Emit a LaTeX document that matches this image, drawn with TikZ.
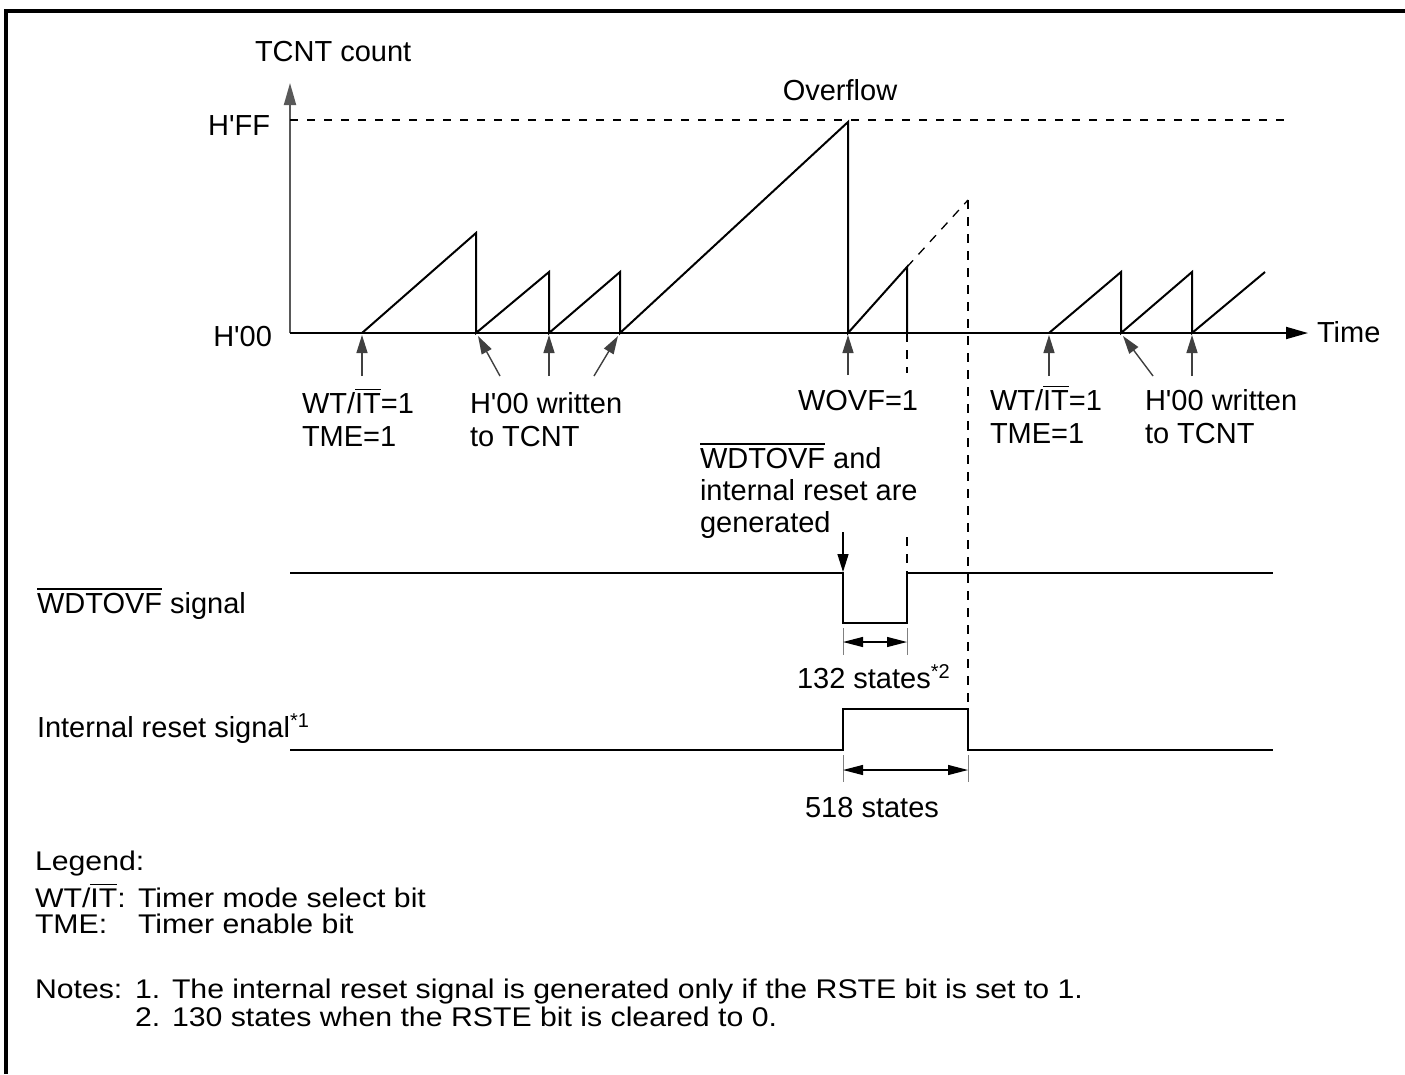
\documentclass[tikz,border=0pt]{standalone}
\usepackage{fontspec}
\setmainfont{Liberation Sans}
\usetikzlibrary{arrows.meta}
\newcommand\ovl[1]{\leavevmode\vbox{\hrule height 1.4pt\kern 3pt\hbox{#1}}}
\newcommand\ap{\textquotesingle}
\newcommand\lgd[1]{\scalebox{1.12}[1]{\fontsize{27}{30}\selectfont #1}}
\tikzset{
  txt/.style={font=\fontsize{29}{33}\selectfont, inner sep=0pt, outer sep=0pt},
  lg/.style={inner sep=0pt, outer sep=0pt, anchor=base west},
  wave/.style={line width=2pt, line join=miter},
  ptr/.style={line width=1.4pt, draw=black!75, -{Triangle[length=18pt,width=11pt]}},
  dsh/.style={line width=1.3pt, dash pattern=on 9pt off 8pt},
  dim/.style={line width=1.2pt, {Triangle[length=20pt,width=10pt]}-{Triangle[length=20pt,width=10pt]}},
  tick/.style={line width=1pt, draw=black!50},
}
\begin{document}
\begin{tikzpicture}[x=1pt,y=-1pt]
\useasboundingbox (0,0) rectangle (1405,1074);
% frame
\draw[line width=3.5pt] (6,1074) -- (6,11) -- (1405,11);

% axes
\coordinate (O) at (290,333);
\coordinate (ytop) at (290,83);
\coordinate (xend) at (1308,333);
\draw[line width=1.8pt, draw=black!65, -{Triangle[length=22pt,width=12pt]}] (O) -- (ytop);
\draw[line width=1.8pt, -{Triangle[length=22pt,width=12pt]}] (O) -- (xend);
\coordinate (ffa) at (290,120);
\coordinate (ffb) at (1290,120);
\draw[line width=1.3pt, dash pattern=on 8pt off 9pt] (ffa) -- (ffb);

% axis labels
\node[txt, anchor=base west] (ylab) at (255,61) {TCNT count};
\node[txt, anchor=base east] (hff) at (270,135) {H\ap FF};
\node[txt, anchor=base east] (h00) at (272,346) {H\ap 00};
\node[txt, anchor=base] (ovf) at (840,100) {Overflow};
\node[txt, anchor=base west] (time) at (1317,342) {Time};

% sawtooth, first group
\coordinate (s0) at (362,333);
\coordinate (p1) at (476,233); \coordinate (b1) at (476,333);
\coordinate (p2) at (549,272); \coordinate (b2) at (549,333);
\coordinate (p3) at (620,272); \coordinate (b3) at (620,333);
\coordinate (p4) at (848,122); \coordinate (b4) at (848,333);
\coordinate (p5) at (907,267); \coordinate (b5) at (907,333);
\coordinate (p6) at (968,200);
\draw[wave] (s0) -- (p1) -- (b1) -- (p2) -- (b2) -- (p3) -- (b3) -- (p4) -- (b4) -- (p5) -- (b5);
\draw[dsh] (p5) -- (p6);

% sawtooth, second group
\coordinate (t0) at (1049,333);
\coordinate (q1) at (1121,272); \coordinate (c1) at (1121,333);
\coordinate (q2) at (1192,272); \coordinate (c2) at (1192,333);
\coordinate (q3) at (1265,272);
\draw[wave] (t0) -- (q1) -- (c1) -- (q2) -- (c2) -- (q3);

% pointer arrows
\coordinate (a1s) at (362,376); \coordinate (a1e) at (362,335);
\coordinate (a2s) at (500,376); \coordinate (a2e) at (478,336);
\coordinate (a3s) at (549,376); \coordinate (a3e) at (549,335);
\coordinate (a4s) at (594,376); \coordinate (a4e) at (618,336);
\coordinate (a5s) at (848,375); \coordinate (a5e) at (848,335);
\coordinate (a6s) at (1049,376); \coordinate (a6e) at (1049,335);
\coordinate (a7s) at (1153,376); \coordinate (a7e) at (1123,336);
\coordinate (a8s) at (1192,376); \coordinate (a8e) at (1192,335);
\foreach \i in {1,...,8} \draw[ptr] (a\i s) -- (a\i e);

% labels below axis
\node[txt, anchor=base west] (wt1) at (302,413) {WT/\ovl{IT}=1};
\node[txt, anchor=base west] (tme1) at (302,446) {TME=1};
\node[txt, anchor=base west] (wr1) at (470,413) {H\ap 00 written};
\node[txt, anchor=base west] (to1) at (470,446) {to TCNT};
\node[txt, anchor=base west] (wovf) at (798,410) {WOVF=1};
\node[txt, anchor=base west] (wt2) at (990,410) {WT/\ovl{IT}=1};
\node[txt, anchor=base west] (tme2) at (990,443) {TME=1};
\node[txt, anchor=base west] (wr2) at (1145,410) {H\ap 00 written};
\node[txt, anchor=base west] (to2) at (1145,443) {to TCNT};
\node[txt, anchor=base west] (gen1) at (700,468) {\ovl{WDTOVF} and};
\node[txt, anchor=base west] (gen2) at (700,500) {internal reset are};
\node[txt, anchor=base west] (gen3) at (700,532) {generated};

% dashed verticals
\coordinate (v1a) at (907,333); \coordinate (v1b) at (907,373);
\coordinate (v1c) at (907,537); \coordinate (v1d) at (907,573);
\draw[dsh] (v1a) -- (v1b);
\draw[dsh] (v1c) -- (v1d);
\coordinate (v2b) at (968,709);
\draw[dsh] (p6) -- (v2b);

% generated arrow
\coordinate (gs) at (843,532); \coordinate (ge) at (843,572);
\draw[line width=1.4pt, -{Triangle[length=18pt,width=11pt]}] (gs) -- (ge);

% WDTOVF signal
\node[txt, anchor=base west] (wsig) at (37,613) {\ovl{WDTOVF} signal};
\coordinate (w0) at (290,573); \coordinate (w1) at (843,573); \coordinate (w2) at (843,623);
\coordinate (w3) at (907,623); \coordinate (w4) at (907,573); \coordinate (w5) at (1273,573);
\draw[wave] (w0) -- (w1) -- (w2) -- (w3) -- (w4) -- (w5);
\coordinate (d1a) at (843,628); \coordinate (d1b) at (843,655);
\coordinate (d1c) at (907,628); \coordinate (d1d) at (907,655);
\draw[tick] (d1a) -- (d1b); \draw[tick] (d1c) -- (d1d);
\coordinate (d1l) at (843,642); \coordinate (d1r) at (907,642);
\draw[dim] (d1l) -- (d1r);
\node[txt, anchor=base west] (s132) at (797,688) {132 states\raisebox{10pt}{\fontsize{20}{20}\selectfont *2}};

% internal reset signal
\node[txt, anchor=base west] (rsig) at (37,737) {Internal reset signal\raisebox{10pt}{\fontsize{20}{20}\selectfont *1}};
\coordinate (r0) at (290,750); \coordinate (r1) at (843,750); \coordinate (r2) at (843,709);
\coordinate (r3) at (968,709); \coordinate (r4) at (968,750); \coordinate (r5) at (1273,750);
\draw[wave] (r0) -- (r1) -- (r2) -- (r3) -- (r4) -- (r5);
\coordinate (d2a) at (843,755); \coordinate (d2b) at (843,782);
\coordinate (d2c) at (968,755); \coordinate (d2d) at (968,782);
\draw[tick] (d2a) -- (d2b); \draw[tick] (d2c) -- (d2d);
\coordinate (d2l) at (843,770); \coordinate (d2r) at (968,770);
\draw[dim] (d2l) -- (d2r);
\node[txt, anchor=base] (s518) at (872,817) {518 states};

% legend
\node[lg] (lg0) at (35,870) {\lgd{Legend:}};
\node[lg] (lg1) at (35,907) {\lgd{WT/\ovl{IT}:}};
\node[lg] (lg1b) at (138,907) {\lgd{Timer mode select bit}};
\node[lg] (lg2) at (35,933) {\lgd{TME:}};
\node[lg] (lg2b) at (138,933) {\lgd{Timer enable bit}};
\node[lg] (n0) at (35,998) {\lgd{Notes:}};
\node[lg] (n1) at (135,998) {\lgd{1.}};
\node[lg] (n1b) at (172,998) {\lgd{The internal reset signal is generated only if the RSTE bit is set to 1.}};
\node[lg] (n2) at (135,1026) {\lgd{2.}};
\node[lg] (n2b) at (172,1026) {\lgd{130 states when the RSTE bit is cleared to 0.}};
\end{tikzpicture}
\end{document}
